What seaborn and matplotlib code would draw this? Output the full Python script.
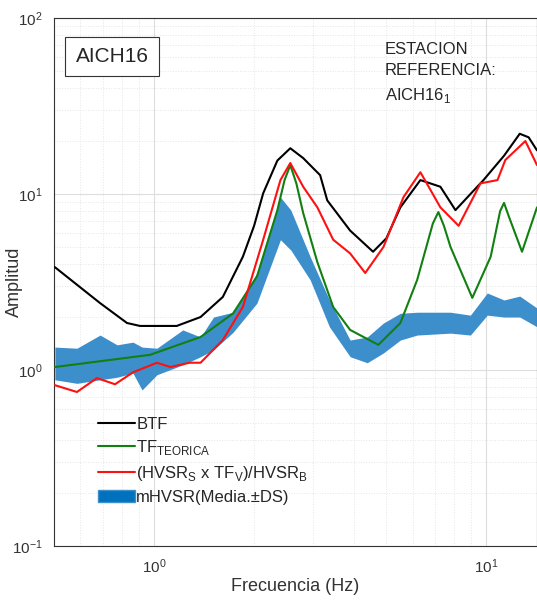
import matplotlib
matplotlib.use("Agg")
import matplotlib.pyplot as plt
import seaborn as sns
import pandas as pd
from matplotlib.patches import Patch
from matplotlib.lines import Line2D

# BTF (black)
btf_f = [0.503, 0.688, 0.829, 0.907, 1.17, 1.38, 1.61, 1.85, 2.0, 2.13, 2.35, 2.57, 2.81, 3.16, 3.32, 3.89, 4.56, 5.0, 5.51, 6.33, 7.27, 8.07, 9.8, 11.3, 12.6, 13.4, 14.2]
btf_a = [3.84, 2.4, 1.85, 1.78, 1.78, 2.0, 2.6, 4.4, 6.6, 10.1, 15.5, 18.2, 16.0, 12.8, 9.2, 6.2, 4.7, 5.6, 8.4, 12.0, 11.0, 8.1, 12.0, 16.5, 22.0, 21.0, 17.7]

# theoretical TF (green)
tf_f = [0.503, 0.973, 1.38, 1.73, 2.04, 2.35, 2.47, 2.57, 2.68, 2.81, 3.10, 3.46, 3.89, 4.73, 5.51, 6.19, 6.9, 7.17, 7.45, 7.80, 9.07, 10.3, 11.0, 11.3, 11.7, 12.8, 14.2]
tf_a = [1.04, 1.22, 1.54, 2.1, 3.4, 8.1, 12.0, 14.6, 11.5, 7.8, 4.1, 2.28, 1.69, 1.39, 1.85, 3.25, 6.8, 7.9, 6.6, 5.0, 2.57, 4.4, 8.0, 8.9, 7.4, 4.7, 8.4]

# (HVSR_S x TF_V)/HVSR_B (red)
hv_f = [0.503, 0.586, 0.673, 0.763, 0.864, 1.02, 1.12, 1.28, 1.38, 1.61, 1.85, 2.13, 2.40, 2.57, 2.81, 3.10, 3.46, 3.89, 4.32, 4.90, 5.63, 6.33, 7.27, 8.25, 9.6, 10.8, 11.4, 13.1, 14.2]
hv_a = [0.82, 0.75, 0.9, 0.83, 0.97, 1.1, 1.04, 1.1, 1.1, 1.48, 2.28, 5.5, 12.0, 15.0, 11.0, 8.4, 5.5, 4.6, 3.56, 5.0, 9.6, 13.3, 8.4, 6.6, 11.5, 12.0, 15.6, 20.0, 14.6]

# mHVSR band (blue)
m_f = [0.503, 0.586, 0.688, 0.774, 0.864, 0.92, 1.02, 1.22, 1.38, 1.51, 1.73, 2.04, 2.40, 2.58, 2.95, 3.37, 3.89, 4.38, 4.90, 5.51, 6.19, 7.8, 8.95, 10.06, 11.3, 12.6, 14.2]
m_hi = [1.35, 1.33, 1.58, 1.39, 1.44, 1.35, 1.33, 1.69, 1.54, 2.0, 2.13, 3.56, 9.6, 8.1, 4.4, 2.5, 1.48, 1.54, 1.85, 2.1, 2.13, 2.13, 2.05, 2.74, 2.5, 2.63, 2.25]
m_lo = [0.88, 0.84, 0.88, 0.91, 0.96, 0.77, 0.94, 1.07, 1.19, 1.30, 1.64, 2.40, 5.5, 4.8, 3.25, 1.76, 1.19, 1.10, 1.25, 1.48, 1.58, 1.62, 1.58, 2.05, 2.0, 2.0, 1.76]

sns.set_style("white")
plt.rcParams['font.family'] = ['Liberation Sans', 'DejaVu Sans']
plt.rcParams['mathtext.fontset'] = 'custom'
plt.rcParams['mathtext.rm'] = 'Liberation Sans'

fig = plt.figure(figsize=(5.37, 6.01), dpi=100)
ax = fig.add_axes([0.1006, 0.0915, 0.8994, 0.8785])

ax.fill_between(m_f, m_lo, m_hi, color='#3d8fcc', linewidth=0, zorder=2)
sns.lineplot(data=pd.DataFrame({'f': btf_f, 'a': btf_a}), x='f', y='a', color='black', lw=1.5, ax=ax, zorder=3)
sns.lineplot(data=pd.DataFrame({'f': tf_f, 'a': tf_a}), x='f', y='a', color='#118011', lw=1.5, ax=ax, zorder=4)
sns.lineplot(data=pd.DataFrame({'f': hv_f, 'a': hv_a}), x='f', y='a', color='#ff1010', lw=1.5, ax=ax, zorder=5)

ax.set_xscale('log')
ax.set_yscale('log')
ax.set_xlim(0.5, 14.2)
ax.set_ylim(0.1, 100)
ax.grid(True, which='major', color='#dddddd', lw=0.8)
ax.grid(True, which='minor', color='#e6e6e6', lw=0.7, ls=':')
ax.tick_params(which='both', direction='in', labelsize=11, colors='#333333')
ax.tick_params(which='major', length=5, pad=8)
ax.tick_params(which='minor', length=3)
for s in ['left', 'top', 'bottom', 'right']:
    ax.spines[s].set_color('#333333')
    ax.spines[s].set_linewidth(0.8)
ax.set_xlabel('Frecuencia (Hz)', fontsize=13, color='#333333')
ax.set_ylabel('Amplitud', fontsize=13, color='#333333')
ax.yaxis.set_label_coords(-0.065, 0.5)
ax.xaxis.set_label_coords(0.5, -0.06)

ax.text(0.045, 0.945, 'AICH16', transform=ax.transAxes, fontsize=15, va='top', ha='left',
        bbox=dict(boxstyle='square,pad=0.5', fc='white', ec='#333333', lw=0.8))
ax.text(0.685, 0.955, 'ESTACION\nREFERENCIA:\nAICH16$_1$', transform=ax.transAxes, fontsize=12,
        va='top', ha='left', linespacing=1.55)

handles = [Line2D([], [], color='black', lw=1.5),
           Line2D([], [], color='#118011', lw=1.5),
           Line2D([], [], color='#ff1010', lw=1.5),
           Patch(fc='#0072bd', ec='#3d8fcc')]
labels = ['BTF', 'TF$_{\\mathregular{TEORICA}}$',
          '(HVSR$_{\\mathregular{S}}$ x TF$_{\\mathregular{V}}$)/HVSR$_{\\mathregular{B}}$',
          'mHVSR(Media.±DS)']
ax.legend(handles, labels, loc='lower left', bbox_to_anchor=(0.06, 0.05), frameon=False,
          fontsize=12, handlelength=2.2, handletextpad=0.1, labelspacing=0.4)

fig.savefig('out.png', dpi=100)
